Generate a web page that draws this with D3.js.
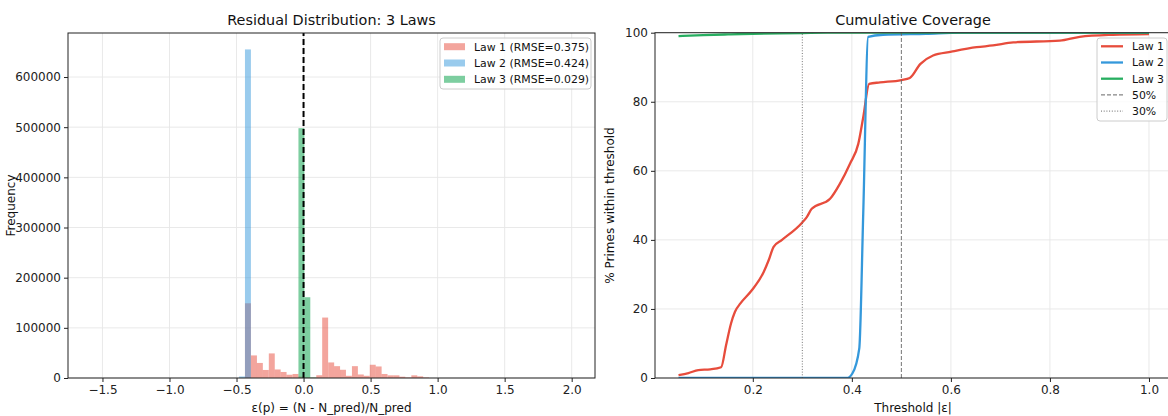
<!DOCTYPE html>
<html>
<head>
<meta charset="utf-8">
<script src="https://cdn.jsdelivr.net/npm/d3@7"></script>
<style>
  body { margin: 0; background: white; }
  svg { display: block; font-family: "DejaVu Sans", sans-serif; }
</style>
</head>
<body>
<svg id="chart" width="1168" height="416"></svg>
<script>
// ---- histogram data (bin left edge, count) ----
var binW = 0.0443;
var law1Edges = [-0.437, -0.392, -0.348, -0.304, -0.259, -0.215, -0.171, -0.127, -0.082, -0.038,
                 0.006, 0.051, 0.095, 0.139, 0.184, 0.228, 0.272, 0.316, 0.361, 0.405,
                 0.449, 0.494, 0.538, 0.582, 0.627, 0.671, 0.715, 0.759, 0.804, 0.848, 0.892];
var law1Counts = [149000, 45000, 30000, 16000, 49000, 17000, 12000, 6500, 8000, 3000,
                  1500, 500, 5500, 120500, 31000, 23600, 16400, 4400, 23600, 7000,
                  4400, 26400, 23000, 8000, 5300, 5300, 2600, 1000, 5300, 3300, 1000];
var law2Edges = [-0.481, -0.437];
var law2Counts = [3000, 655000];
var law3Edges = [-0.038, 0.006, 0.051];
var law3Counts = [498000, 161000, 1000];

var histLabels = ["Law 1 (RMSE=0.375)", "Law 2 (RMSE=0.424)", "Law 3 (RMSE=0.029)"];
var histXTicks = [-1.5, -1.0, -0.5, 0.0, 0.5, 1.0, 1.5, 2.0];
var histYTicks = [0, 100000, 200000, 300000, 400000, 500000, 600000];

// ---- cumulative coverage data ----
var law1Thr = [0.05, 0.07, 0.09, 0.114, 0.136, 0.146, 0.156, 0.164, 0.175, 0.198, 0.222, 0.232, 0.242, 0.259,
               0.299, 0.309, 0.319, 0.356, 0.376, 0.396, 0.413, 0.423, 0.435, 0.457, 0.5, 0.517,
               0.538, 0.564, 0.601, 0.652, 0.685, 0.726, 0.82, 0.86, 0.927, 1.0];
var law1Cov = [0.8, 1.4, 2.3, 2.5, 3.1, 9.5, 15.8, 19.2, 21.6, 25.4, 30.7, 34.1, 38, 40,
               44.9, 46.6, 49, 51.9, 56.3, 62, 67.8, 75.5, 85.2, 85.6, 86.3, 86.9,
               90.9, 93.4, 94.5, 95.8, 96.3, 97.2, 97.7, 98.8, 99.4, 99.6];
var law2Thr = [0.05, 0.39, 0.401, 0.415, 0.423, 0.433, 0.463, 0.55, 0.62, 1.0];
var law2Cov = [0, 0, 1.3, 8.6, 47.6, 98.8, 99.4, 99.7, 100, 100];
var law3Thr = [0.05, 0.1, 0.15, 0.2, 0.3, 0.35, 1.0];
var law3Cov = [99.0, 99.3, 99.5, 99.7, 99.9, 100, 100];

var covLabels = ["Law 1", "Law 2", "Law 3", "50%", "30%"];
var covXTicks = [0.2, 0.4, 0.6, 0.8, 1.0];
var covYTicks = [0, 20, 40, 60, 80, 100];

var colors = ["#e74c3c", "#3498db", "#27ae60"];
var histAlpha = [0.5, 0.5, 0.6];

var svg = d3.select("#chart");
var tickFont = 12, titleFont = 14.4, legendFont = 10.9;

function drawGrid(g, x, y, xTicks, yTicks) {
    var x0 = x.range()[0], x1 = x.range()[1];
    var y0 = y.range()[0], y1 = y.range()[1];
    g.append("g").selectAll("line").data(xTicks).join("line")
        .attr("x1", d => x(d)).attr("x2", d => x(d))
        .attr("y1", y0).attr("y2", y1)
        .attr("stroke", "#e6e6e6").attr("stroke-width", 0.9);
    g.append("g").selectAll("line").data(yTicks).join("line")
        .attr("x1", x0).attr("x2", x1)
        .attr("y1", d => y(d)).attr("y2", d => y(d))
        .attr("stroke", "#e6e6e6").attr("stroke-width", 0.9);
}

function drawFrame(g, x, y, xTicks, yTicks, xFmt, yFmt) {
    var x0 = x.range()[0], x1 = x.range()[1];
    var y0 = y.range()[0], y1 = y.range()[1];
    g.append("rect")
        .attr("x", x0).attr("y", y1)
        .attr("width", x1 - x0).attr("height", y0 - y1)
        .attr("fill", "none").attr("stroke", "#222").attr("stroke-width", 1);
    var xa = d3.axisBottom(x).tickValues(xTicks).tickFormat(xFmt).tickSizeOuter(0).tickSize(4).tickPadding(3);
    var ya = d3.axisLeft(y).tickValues(yTicks).tickFormat(yFmt).tickSizeOuter(0).tickSize(4).tickPadding(3);
    var gx = g.append("g").attr("transform", "translate(0," + y0 + ")").call(xa);
    var gy = g.append("g").attr("transform", "translate(" + x0 + ",0)").call(ya);
    [gx, gy].forEach(function(a) {
        a.select(".domain").remove();
        a.selectAll("line").attr("stroke", "#222");
        a.selectAll("text").attr("fill", "#222")
            .style("font-size", tickFont + "px").style("font-family", "DejaVu Sans");
    });
}

// ================= left: histogram =================
var hx = d3.scaleLinear().domain([-1.757, 2.174]).range([68, 595]);
var hy = d3.scaleLinear().domain([0, 687750]).range([378, 33]);
var left = svg.append("g");

drawGrid(left, hx, hy, histXTicks, histYTicks);

var histSeries = [
    {edges: law1Edges, counts: law1Counts},
    {edges: law2Edges, counts: law2Counts},
    {edges: law3Edges, counts: law3Counts}
];
histSeries.forEach(function(s, i) {
    left.append("g").selectAll("rect").data(s.edges).join("rect")
        .attr("x", d => hx(d))
        .attr("width", d => hx(d + binW) - hx(d))
        .attr("y", (d, j) => hy(s.counts[j]))
        .attr("height", (d, j) => hy(0) - hy(s.counts[j]))
        .attr("fill", colors[i])
        .attr("fill-opacity", histAlpha[i]);
});

// zero line
left.append("line")
    .attr("x1", hx(0)).attr("x2", hx(0))
    .attr("y1", hy.range()[0]).attr("y2", hy.range()[1])
    .attr("stroke", "black").attr("stroke-width", 2)
    .attr("stroke-dasharray", "6,3");

drawFrame(left, hx, hy, histXTicks, histYTicks, d3.format(".1f"), d3.format("d"));

left.append("text")
    .attr("x", (68 + 595) / 2).attr("y", 25)
    .attr("text-anchor", "middle").style("font-size", titleFont + "px").attr("fill", "#111")
    .text("Residual Distribution: 3 Laws");
left.append("text")
    .attr("x", (68 + 595) / 2).attr("y", 412)
    .attr("text-anchor", "middle").style("font-size", tickFont + "px").attr("fill", "#111")
    .text("ε(p) = (N - N_pred)/N_pred");
left.append("text")
    .attr("transform", "translate(15," + (33 + 378) / 2 + ") rotate(-90)")
    .attr("text-anchor", "middle").style("font-size", tickFont + "px").attr("fill", "#111")
    .text("Frequency");

// legend
var lg = left.append("g");
lg.append("rect")
    .attr("x", 440).attr("y", 38).attr("width", 151).attr("height", 51).attr("rx", 3)
    .attr("fill", "white").attr("fill-opacity", 0.8)
    .attr("stroke", "#cccccc").attr("stroke-width", 1);
histLabels.forEach(function(t, i) {
    var yy = 46.7 + i * 16.3;
    lg.append("rect")
        .attr("x", 444).attr("y", yy - 3.5).attr("width", 21).attr("height", 7)
        .attr("fill", colors[i]).attr("fill-opacity", histAlpha[i]);
    lg.append("text")
        .attr("x", 474).attr("y", yy + 3.9)
        .style("font-size", legendFont + "px").attr("fill", "#111")
        .text(t);
});

// ================= right: cumulative coverage =================
var cx = d3.scaleLinear().domain([0.0025, 1.0475]).range([655, 1172.5]);
var cy = d3.scaleLinear().domain([0, 100]).range([378, 32.7]);
var right = svg.append("g");

drawGrid(right, cx, cy, covXTicks, covYTicks);

var covSeries = [
    {thr: law1Thr, cov: law1Cov},
    {thr: law2Thr, cov: law2Cov},
    {thr: law3Thr, cov: law3Cov}
];
svg.append("clipPath").attr("id", "covclip")
    .append("rect").attr("x", 655).attr("y", 32.7).attr("width", 517.5).attr("height", 345.3);

var lineGen = d3.line().curve(d3.curveMonotoneX).x(d => cx(d[0])).y(d => cy(d[1]));
var lines = right.append("g").attr("clip-path", "url(#covclip)");
covSeries.forEach(function(s, i) {
    lines.append("path")
        .datum(s.thr.map((t, j) => [t, s.cov[j]]))
        .attr("d", lineGen)
        .attr("fill", "none")
        .attr("stroke", colors[i])
        .attr("stroke-width", 2.3)
        .attr("stroke-linejoin", "round");
});

// reference lines at 50% and 30%
right.append("line")
    .attr("x1", cx(0.5)).attr("x2", cx(0.5))
    .attr("y1", cy(0)).attr("y2", cy(100))
    .attr("stroke", "#666").attr("stroke-width", 1).attr("stroke-opacity", 0.9)
    .attr("stroke-dasharray", "4,2");
right.append("line")
    .attr("x1", cx(0.3)).attr("x2", cx(0.3))
    .attr("y1", cy(0)).attr("y2", cy(100))
    .attr("stroke", "#666").attr("stroke-width", 1).attr("stroke-opacity", 0.9)
    .attr("stroke-dasharray", "1,1.7");

drawFrame(right, cx, cy, covXTicks, covYTicks, d3.format(".1f"), d3.format("d"));

right.append("text")
    .attr("x", 913).attr("y", 25)
    .attr("text-anchor", "middle").style("font-size", titleFont + "px").attr("fill", "#111")
    .text("Cumulative Coverage");
right.append("text")
    .attr("x", 913).attr("y", 412)
    .attr("text-anchor", "middle").style("font-size", tickFont + "px").attr("fill", "#111")
    .text("Threshold |ε|");
right.append("text")
    .attr("transform", "translate(614," + (33 + 378) / 2 + ") rotate(-90)")
    .attr("text-anchor", "middle").style("font-size", tickFont + "px").attr("fill", "#111")
    .text("% Primes within threshold");

var rg = right.append("g");
rg.append("rect")
    .attr("x", 1097).attr("y", 38).attr("width", 70).attr("height", 83).attr("rx", 3)
    .attr("fill", "white").attr("fill-opacity", 0.8)
    .attr("stroke", "#cccccc").attr("stroke-width", 1);
covLabels.forEach(function(t, i) {
    var yy = 46.3 + i * 16.2;
    var l = rg.append("line")
        .attr("x1", 1101).attr("x2", 1123).attr("y1", yy).attr("y2", yy);
    if (i < 3) {
        l.attr("stroke", colors[i]).attr("stroke-width", 2.3);
    } else {
        l.attr("stroke", "#666").attr("stroke-width", 1)
            .attr("stroke-dasharray", i == 3 ? "4,2" : "1,1.7");
    }
    rg.append("text")
        .attr("x", 1132).attr("y", yy + 3.9)
        .style("font-size", legendFont + "px").attr("fill", "#111")
        .text(t);
});
</script>
</body>
</html>
